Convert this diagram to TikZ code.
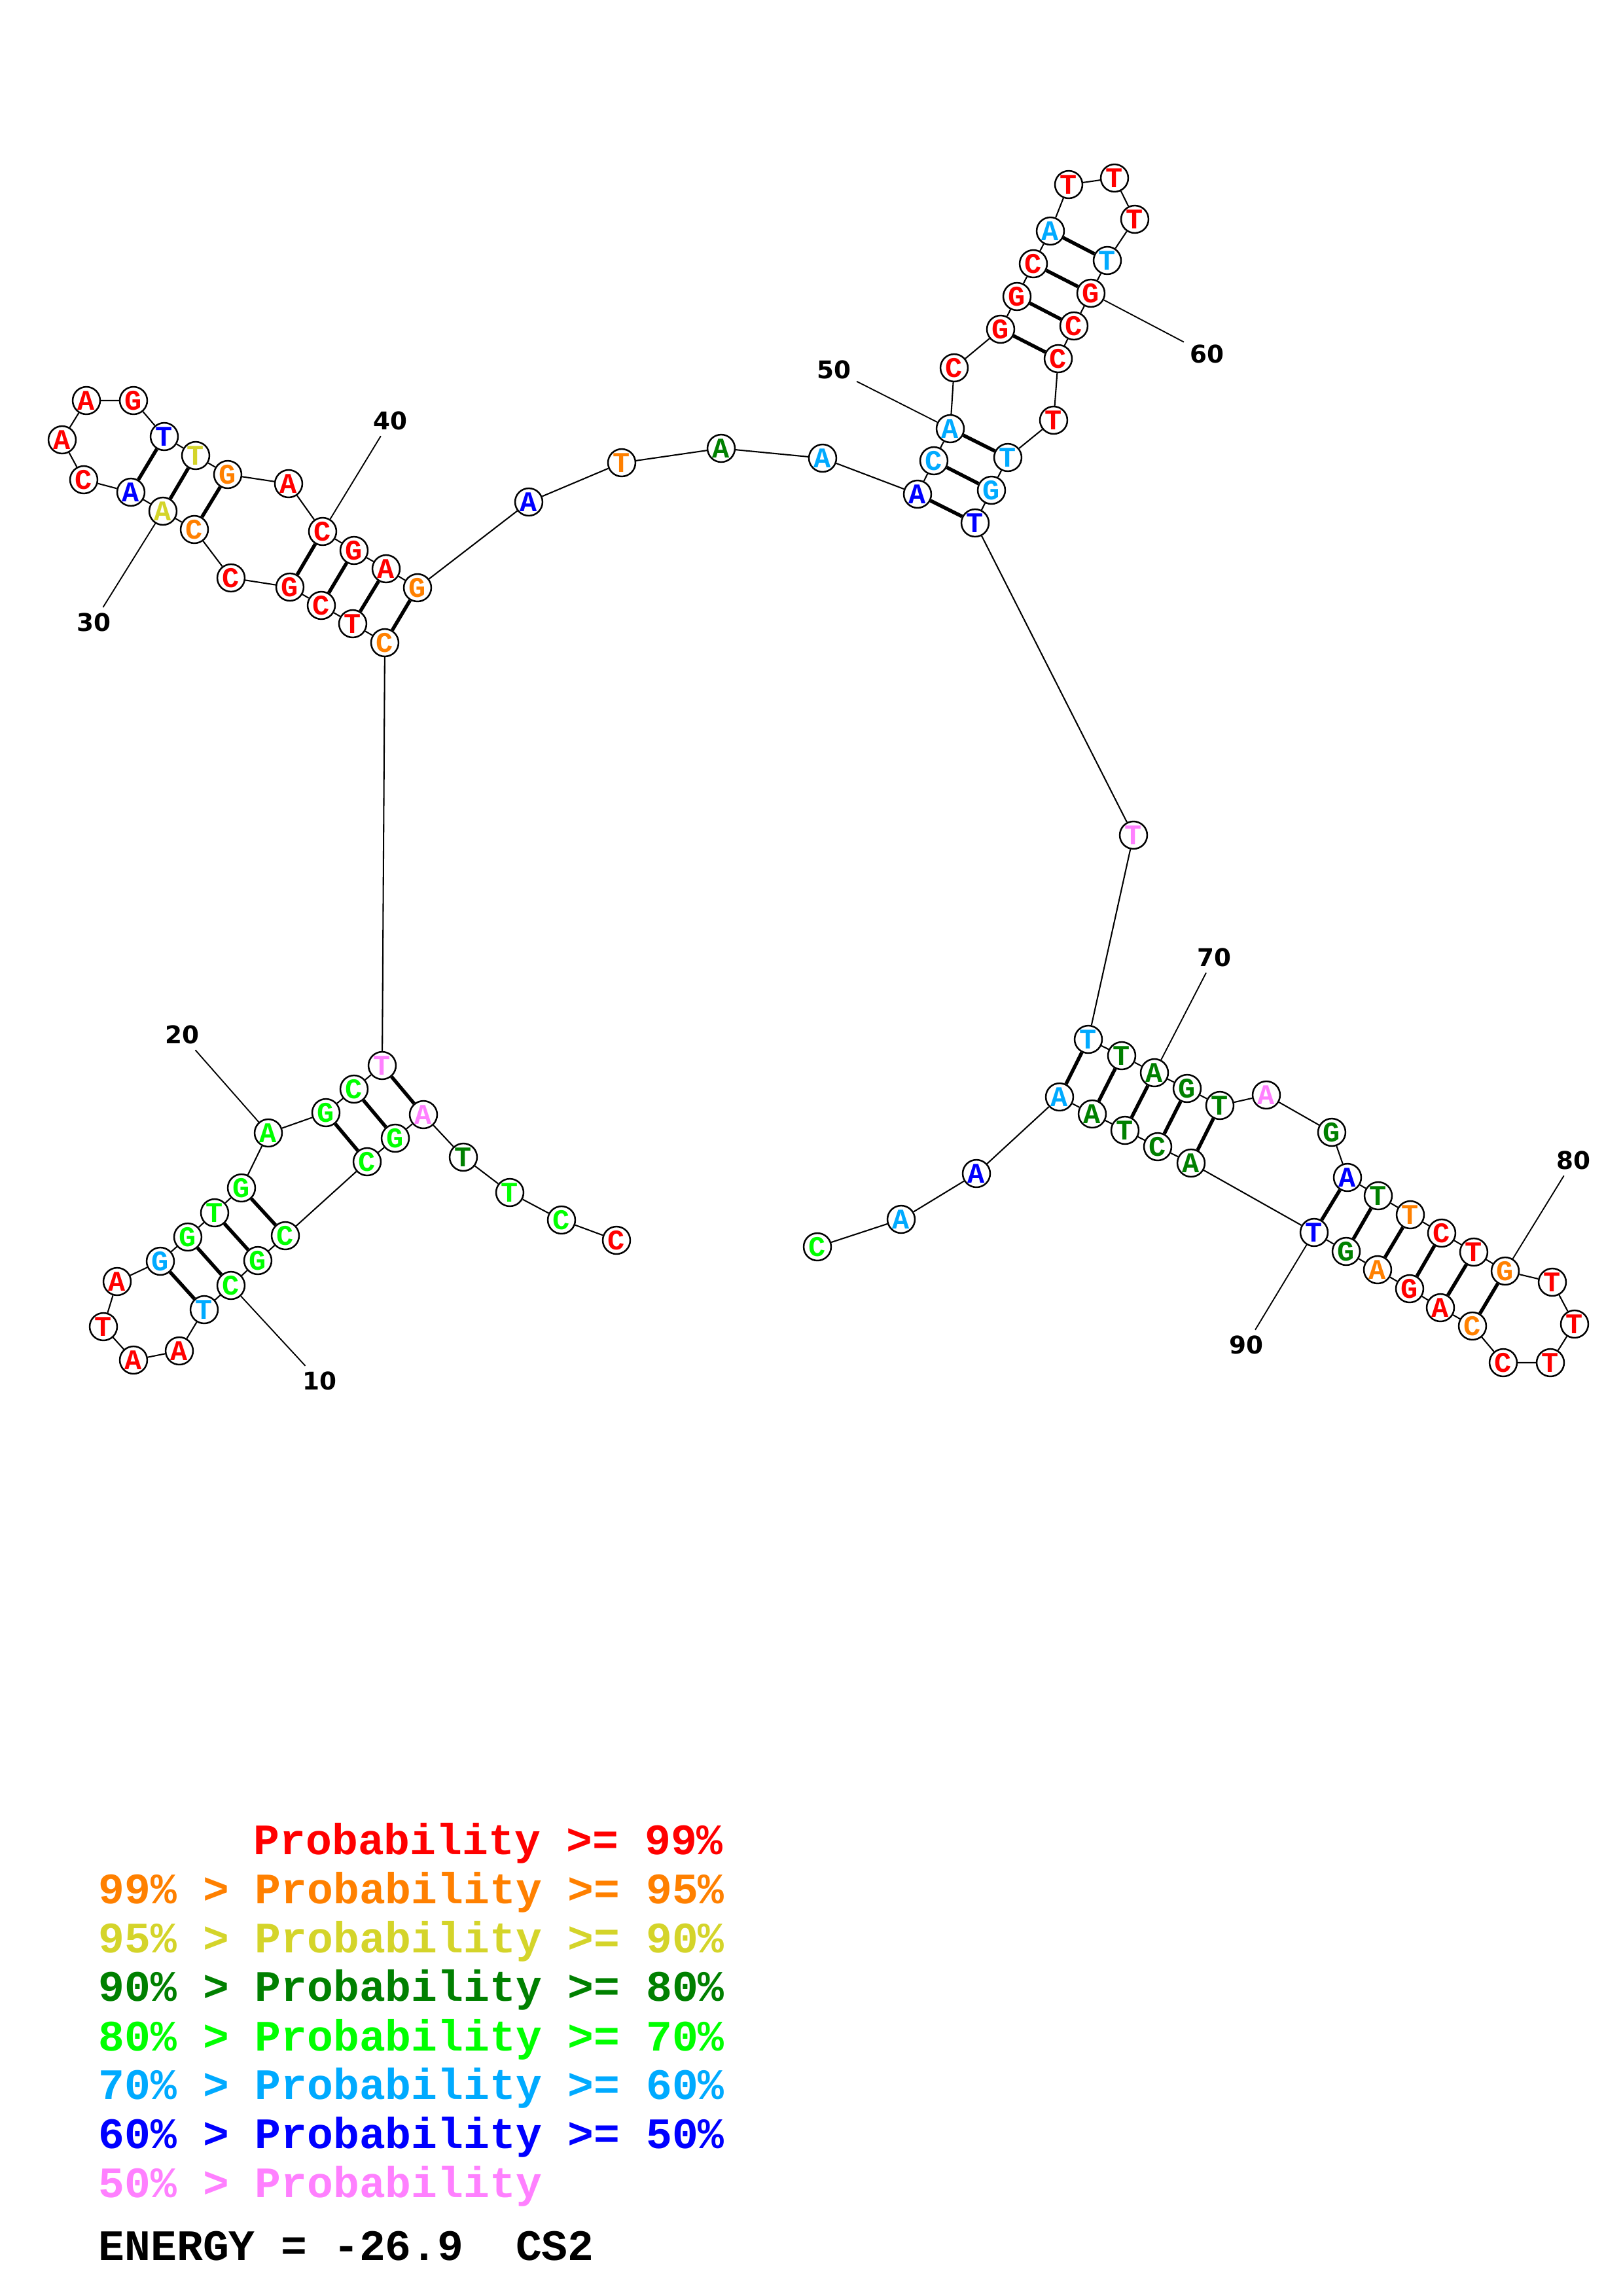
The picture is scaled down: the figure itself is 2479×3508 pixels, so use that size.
\documentclass[tikz,border=0pt]{standalone}
\usepackage{fontspec}
\setmonofont{Liberation Mono}
\newfontfamily\numfont{DejaVu Sans}

\definecolor{pR}{RGB}{255,0,0}
\definecolor{pO}{RGB}{255,128,0}
\definecolor{pY}{RGB}{212,212,42}
\definecolor{pDG}{RGB}{0,128,0}
\definecolor{pG}{RGB}{0,255,0}
\definecolor{pLB}{RGB}{0,170,255}
\definecolor{pB}{RGB}{0,0,255}
\definecolor{pP}{RGB}{255,128,255}

\begin{document}
\begin{tikzpicture}[
  x=0.08471mm, y=-0.08471mm,
  nt/.style={circle, draw, fill=white, line width=0.6pt, inner sep=0pt,
    minimum size=3.55mm, font=\fontsize{10.5}{10.5}\selectfont\ttfamily\bfseries},
  bb/.style={line width=0.5pt},
  bp/.style={line width=1.3pt},
  lab/.style={inner sep=2pt, font=\fontsize{9}{9}\selectfont\numfont\bfseries},
  numline/.style={line width=0.45pt},
  leg/.style={anchor=base west, inner sep=0pt,
    font=\fontsize{16}{16}\selectfont\ttfamily\bfseries}
]
\useasboundingbox (0,0) rectangle (2479,3508);

% nucleotides
\node[nt, text=pR] (n1) at (942,1895) {C};
\node[nt, text=pG] (n2) at (858,1864) {C};
\node[nt, text=pG] (n3) at (779,1822) {T};
\node[nt, text=pDG] (n4) at (708,1768) {T};
\node[nt, text=pP] (n5) at (647,1703) {A};
\node[nt, text=pG] (n6) at (604,1739) {G};
\node[nt, text=pG] (n7) at (561,1775) {C};
\node[nt, text=pG] (n8) at (436,1888) {C};
\node[nt, text=pG] (n9) at (394,1926) {G};
\node[nt, text=pG] (n10) at (353,1964) {C};
\node[nt, text=pLB] (n11) at (312,2001) {T};
\node[nt, text=pR] (n12) at (274,2064) {A};
\node[nt, text=pR] (n13) at (204,2078) {A};
\node[nt, text=pR] (n14) at (158,2027) {T};
\node[nt, text=pR] (n15) at (179,1958) {A};
\node[nt, text=pLB] (n16) at (245,1927) {G};
\node[nt, text=pG] (n17) at (287,1890) {G};
\node[nt, text=pG] (n18) at (328,1853) {T};
\node[nt, text=pG] (n19) at (369,1815) {G};
\node[nt, text=pG] (n20) at (410,1731) {A};
\node[nt, text=pG] (n21) at (498,1700) {G};
\node[nt, text=pG] (n22) at (541,1664) {C};
\node[nt, text=pP] (n23) at (584,1628) {T};
\node[nt, text=pO] (n24) at (588,982) {C};
\node[nt, text=pR] (n25) at (539,953) {T};
\node[nt, text=pR] (n26) at (491,925) {C};
\node[nt, text=pR] (n27) at (443,897) {G};
\node[nt, text=pR] (n28) at (353,883) {C};
\node[nt, text=pO] (n29) at (297,809) {C};
\node[nt, text=pY] (n30) at (249,781) {A};
\node[nt, text=pB] (n31) at (200,752) {A};
\node[nt, text=pR] (n32) at (128,733) {C};
\node[nt, text=pR] (n33) at (95,672) {A};
\node[nt, text=pR] (n34) at (132,612) {A};
\node[nt, text=pR] (n35) at (204,612) {G};
\node[nt, text=pB] (n36) at (251,667) {T};
\node[nt, text=pY] (n37) at (299,696) {T};
\node[nt, text=pO] (n38) at (348,725) {G};
\node[nt, text=pR] (n39) at (441,739) {A};
\node[nt, text=pR] (n40) at (493,812) {C};
\node[nt, text=pR] (n41) at (541,841) {G};
\node[nt, text=pR] (n42) at (590,869) {A};
\node[nt, text=pO] (n43) at (638,898) {G};
\node[nt, text=pB] (n44) at (808,767) {A};
\node[nt, text=pO] (n45) at (950,707) {T};
\node[nt, text=pDG] (n46) at (1102,685) {A};
\node[nt, text=pLB] (n47) at (1257,700) {A};
\node[nt, text=pB] (n48) at (1402,755) {A};
\node[nt, text=pLB] (n49) at (1427,704) {C};
\node[nt, text=pLB] (n50) at (1452,655) {A};
\node[nt, text=pR] (n51) at (1458,562) {C};
\node[nt, text=pR] (n52) at (1529,503) {G};
\node[nt, text=pR] (n53) at (1554,453) {G};
\node[nt, text=pR] (n54) at (1579,403) {C};
\node[nt, text=pLB] (n55) at (1605,353) {A};
\node[nt, text=pR] (n56) at (1633,282) {T};
\node[nt, text=pR] (n57) at (1703,272) {T};
\node[nt, text=pR] (n58) at (1734,335) {T};
\node[nt, text=pLB] (n59) at (1692,398) {T};
\node[nt, text=pR] (n60) at (1667,448) {G};
\node[nt, text=pR] (n61) at (1641,498) {C};
\node[nt, text=pR] (n62) at (1617,548) {C};
\node[nt, text=pR] (n63) at (1610,642) {T};
\node[nt, text=pLB] (n64) at (1540,699) {T};
\node[nt, text=pLB] (n65) at (1515,749) {G};
\node[nt, text=pB] (n66) at (1490,799) {T};
\node[nt, text=pP] (n67) at (1732,1276) {T};
\node[nt, text=pLB] (n68) at (1663,1588) {T};
\node[nt, text=pDG] (n69) at (1714,1613) {T};
\node[nt, text=pDG] (n70) at (1764,1639) {A};
\node[nt, text=pDG] (n71) at (1814,1663) {G};
\node[nt, text=pDG] (n72) at (1864,1689) {T};
\node[nt, text=pP] (n73) at (1935,1673) {A};
\node[nt, text=pDG] (n74) at (2035,1730) {G};
\node[nt, text=pB] (n75) at (2059,1799) {A};
\node[nt, text=pDG] (n76) at (2106,1827) {T};
\node[nt, text=pO] (n77) at (2155,1856) {T};
\node[nt, text=pR] (n78) at (2203,1884) {C};
\node[nt, text=pR] (n79) at (2252,1913) {T};
\node[nt, text=pO] (n80) at (2300,1942) {G};
\node[nt, text=pR] (n81) at (2372,1959) {T};
\node[nt, text=pR] (n82) at (2406,2023) {T};
\node[nt, text=pR] (n83) at (2369,2082) {T};
\node[nt, text=pR] (n84) at (2297,2082) {C};
\node[nt, text=pO] (n85) at (2250,2026) {C};
\node[nt, text=pR] (n86) at (2201,1998) {A};
\node[nt, text=pR] (n87) at (2154,1969) {G};
\node[nt, text=pO] (n88) at (2105,1940) {A};
\node[nt, text=pDG] (n89) at (2057,1912) {G};
\node[nt, text=pB] (n90) at (2008,1883) {T};
\node[nt, text=pDG] (n91) at (1820,1777) {A};
\node[nt, text=pDG] (n92) at (1769,1752) {C};
\node[nt, text=pDG] (n93) at (1719,1727) {T};
\node[nt, text=pDG] (n94) at (1669,1702) {A};
\node[nt, text=pLB] (n95) at (1619,1676) {A};
\node[nt, text=pB] (n96) at (1492,1793) {A};
\node[nt, text=pLB] (n97) at (1377,1863) {A};
\node[nt, text=pG] (n98) at (1249,1905) {C};

% position numbers
\node[lab] (l10) at (488,2110) {10};
\node[lab] (l20) at (278,1581) {20};
\node[lab] (l30) at (143,951) {30};
\node[lab] (l40) at (596,643) {40};
\node[lab] (l50) at (1274,565) {50};
\node[lab] (l60) at (1844,541) {60};
\node[lab] (l70) at (1855,1463) {70};
\node[lab] (l80) at (2404,1773) {80};
\node[lab] (l90) at (1904,2055) {90};

% backbone
\draw[bb] (n1) -- (n2) -- (n3) -- (n4) -- (n5) -- (n6) -- (n7) -- (n8) -- (n9)
  -- (n10) -- (n11) -- (n12) -- (n13) -- (n14) -- (n15) -- (n16) -- (n17)
  -- (n18) -- (n19) -- (n20) -- (n21) -- (n22) -- (n23) -- (n24) -- (n25)
  -- (n26) -- (n27) -- (n28) -- (n29) -- (n30) -- (n31) -- (n32) -- (n33)
  -- (n34) -- (n35) -- (n36) -- (n37) -- (n38) -- (n39) -- (n40) -- (n41)
  -- (n42) -- (n43) -- (n44) -- (n45) -- (n46) -- (n47) -- (n48) -- (n49)
  -- (n50) -- (n51) -- (n52) -- (n53) -- (n54) -- (n55) -- (n56) -- (n57)
  -- (n58) -- (n59) -- (n60) -- (n61) -- (n62) -- (n63) -- (n64) -- (n65)
  -- (n66) -- (n67) -- (n68) -- (n69) -- (n70) -- (n71) -- (n72) -- (n73)
  -- (n74) -- (n75) -- (n76) -- (n77) -- (n78) -- (n79) -- (n80) -- (n81)
  -- (n82) -- (n83) -- (n84) -- (n85) -- (n86) -- (n87) -- (n88) -- (n89)
  -- (n90) -- (n91) -- (n92) -- (n93) -- (n94) -- (n95) -- (n96) -- (n97)
  -- (n98);

% base pairs
\draw[bp] (n5) -- (n23);
\draw[bp] (n6) -- (n22);
\draw[bp] (n7) -- (n21);
\draw[bp] (n8) -- (n19);
\draw[bp] (n9) -- (n18);
\draw[bp] (n10) -- (n17);
\draw[bp] (n11) -- (n16);
\draw[bp] (n24) -- (n43);
\draw[bp] (n25) -- (n42);
\draw[bp] (n26) -- (n41);
\draw[bp] (n27) -- (n40);
\draw[bp] (n29) -- (n38);
\draw[bp] (n30) -- (n37);
\draw[bp] (n31) -- (n36);
\draw[bp] (n48) -- (n66);
\draw[bp] (n49) -- (n65);
\draw[bp] (n50) -- (n64);
\draw[bp] (n52) -- (n62);
\draw[bp] (n53) -- (n61);
\draw[bp] (n54) -- (n60);
\draw[bp] (n55) -- (n59);
\draw[bp] (n68) -- (n95);
\draw[bp] (n69) -- (n94);
\draw[bp] (n70) -- (n93);
\draw[bp] (n71) -- (n92);
\draw[bp] (n72) -- (n91);
\draw[bp] (n75) -- (n90);
\draw[bp] (n76) -- (n89);
\draw[bp] (n77) -- (n88);
\draw[bp] (n78) -- (n87);
\draw[bp] (n79) -- (n86);
\draw[bp] (n80) -- (n85);

% number ticks
\draw[numline] (n10) -- (l10);
\draw[numline] (n20) -- (l20);
\draw[numline] (n30) -- (l30);
\draw[numline] (n40) -- (l40);
\draw[numline] (n50) -- (l50);
\draw[numline] (n60) -- (l60);
\draw[numline] (n70) -- (l70);
\draw[numline] (n80) -- (l80);
\draw[numline] (n90) -- (l90);

% legend
\node[leg, text=pR] (leg1) at (387,2833) {Probability >= 99\%};
\node[leg, text=pO] (leg2) at (150,2908) {99\% > Probability >= 95\%};
\node[leg, text=pY] (leg3) at (150,2983) {95\% > Probability >= 90\%};
\node[leg, text=pDG] (leg4) at (150,3057) {90\% > Probability >= 80\%};
\node[leg, text=pG] (leg5) at (150,3133) {80\% > Probability >= 70\%};
\node[leg, text=pLB] (leg6) at (150,3207) {70\% > Probability >= 60\%};
\node[leg, text=pB] (leg7) at (150,3282) {60\% > Probability >= 50\%};
\node[leg, text=pP] (leg8) at (150,3357) {50\% > Probability};
\node[leg] (energy) at (150,3453) {ENERGY = -26.9\ \ CS2};
\end{tikzpicture}
\end{document}
